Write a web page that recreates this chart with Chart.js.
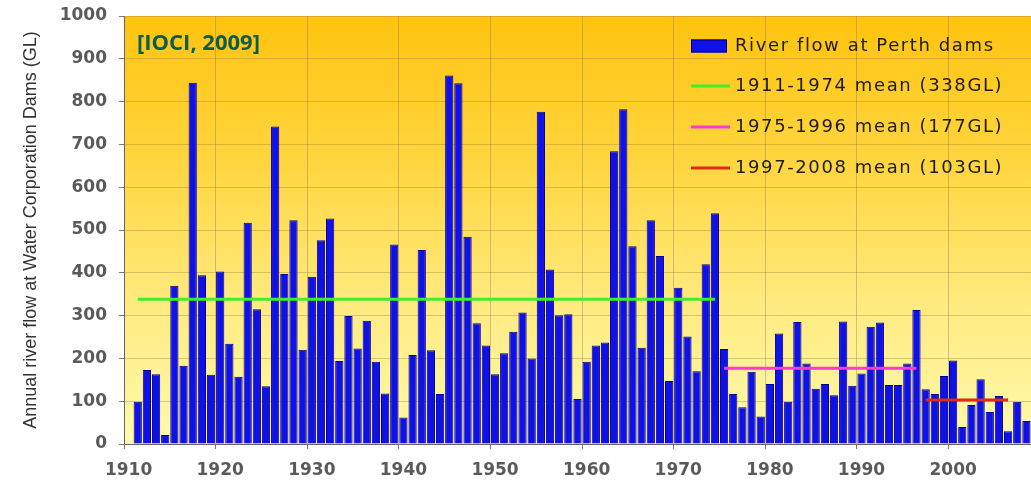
<!DOCTYPE html>
<html>
<head>
<meta charset="utf-8">
<title>River flow at Perth dams</title>
<script src="https://cdn.jsdelivr.net/npm/chart.js@4.4.1/dist/chart.umd.min.js"></script>
<style>
  html, body { margin: 0; padding: 0; background: #ffffff; }
  #wrap { width: 1031px; height: 483px; position: relative; }
</style>
</head>
<body>
<div id="wrap"><canvas id="flowChart"></canvas></div>
<script>
// categories: one per year, 1910 is left empty like the original axis
const years = [
  1910, 1911, 1912, 1913, 1914, 1915, 1916, 1917, 1918, 1919,
  1920, 1921, 1922, 1923, 1924, 1925, 1926, 1927, 1928, 1929,
  1930, 1931, 1932, 1933, 1934, 1935, 1936, 1937, 1938, 1939,
  1940, 1941, 1942, 1943, 1944, 1945, 1946, 1947, 1948, 1949,
  1950, 1951, 1952, 1953, 1954, 1955, 1956, 1957, 1958, 1959,
  1960, 1961, 1962, 1963, 1964, 1965, 1966, 1967, 1968, 1969,
  1970, 1971, 1972, 1973, 1974, 1975, 1976, 1977, 1978, 1979,
  1980, 1981, 1982, 1983, 1984, 1985, 1986, 1987, 1988, 1989,
  1990, 1991, 1992, 1993, 1994, 1995, 1996, 1997, 1998, 1999,
  2000, 2001, 2002, 2003, 2004, 2005, 2006, 2007, 2008
];

// annual inflow (GL)
const riverFlow = [
  null, 99, 173, 163, 21, 370, 183, 844, 394, 162,
  403, 234, 157, 517, 315, 135, 742, 397, 523, 220,
  391, 476, 527, 194, 299, 223, 288, 192, 118, 466,
  62, 208, 453, 219, 117, 861, 843, 484, 282, 230,
  163, 212, 262, 307, 200, 776, 408, 301, 303, 105,
  192, 230, 237, 684, 782, 462, 225, 523, 439, 147,
  365, 251, 170, 420, 539, 222, 117, 86, 169, 64,
  140, 258, 99, 285, 188, 129, 140, 114, 286, 136,
  165, 274, 284, 138, 138, 188, 313, 128, 117, 159,
  195, 40, 91, 151, 75, 112, 30, 99, 54
];

// period means
const meanLabels = ['1911-1974 mean (338GL)', '1975-1996 mean (177GL)', '1997-2008 mean (103GL)'];
const meanValues = [338, 177, 103];
const meanFrom = [1911, 1975, 1997];
const meanTo = [1974, 1996, 2006];
const meanColors = ['#3ef02a', '#ff3ad2', '#e02a18'];

const barLabel = 'River flow at Perth dams';
const yTicks = [0, 100, 200, 300, 400, 500, 600, 700, 800, 900, 1000];
const yTitle = 'Annual river flow at Water Corporation Dams (GL)';
const noteText = '[IOCI, 2009]';

const TICK_FONT = { family: 'DejaVu Sans', size: 17, weight: 'bold' };
const TICK_COLOR = '#5a5a5a';

// gradient behind the plot, white elsewhere
const plotBackground = {
  id: 'plotBackground',
  beforeDraw(chart) {
    const { ctx, chartArea: a } = chart;
    ctx.save();
    ctx.fillStyle = '#ffffff';
    ctx.fillRect(0, 0, chart.width, chart.height);
    const g = ctx.createLinearGradient(0, a.top, 0, a.bottom);
    g.addColorStop(0, '#ffc30e');
    g.addColorStop(0.35, '#ffd640');
    g.addColorStop(0.7, '#ffec84');
    g.addColorStop(1, '#fffaac');
    ctx.fillStyle = g;
    ctx.fillRect(a.left, a.top, a.right - a.left, a.bottom - a.top);
    ctx.restore();
  }
};

// legend inside the plot (top right) and the source note (top left)
const insideLegend = {
  id: 'insideLegend',
  afterDraw(chart) {
    const { ctx, chartArea: a } = chart;
    const x0 = a.right - 340;
    const rows = [46, 86, 127, 168];
    ctx.save();
    ctx.font = '18px "DejaVu Sans"';
    ctx.letterSpacing = '1.6px';
    ctx.textBaseline = 'middle';
    chart.data.datasets.forEach((ds, i) => {
      const y = rows[i];
      if (ds.type === 'bar') {
        ctx.fillStyle = ds.backgroundColor;
        ctx.fillRect(x0, y - 6.5, 36, 13);
        ctx.strokeStyle = ds.borderColor;
        ctx.lineWidth = 1;
        ctx.strokeRect(x0 + 0.5, y - 6, 35, 12);
      } else {
        ctx.strokeStyle = ds.borderColor;
        ctx.lineWidth = 3;
        ctx.beginPath();
        ctx.moveTo(x0, y);
        ctx.lineTo(x0 + 39, y);
        ctx.stroke();
      }
      ctx.fillStyle = '#1e1a0e';
      ctx.fillText(ds.label, x0 + 44, y);
    });
    ctx.letterSpacing = '0px';
    ctx.font = 'bold 22px "Open Sans"';
    ctx.fillStyle = '#0d5c4c';
    ctx.fillText(noteText, a.left + 13, 44);
    ctx.restore();
  }
};

const meanSets = meanValues.map((v, i) => ({
  type: 'line',
  label: meanLabels[i],
  data: years.map(yr => (yr >= meanFrom[i] && yr <= meanTo[i]) ? v : null),
  borderColor: meanColors[i],
  borderWidth: 3,
  pointRadius: 0,
  spanGaps: false,
  order: 0
}));

const isDecade = idx => years[idx] !== undefined && years[idx] % 10 === 0;

new Chart(document.getElementById('flowChart'), {
  type: 'bar',
  data: {
    labels: years,
    datasets: [
      {
        type: 'bar',
        label: barLabel,
        data: riverFlow,
        backgroundColor: '#1010e8',
        borderColor: '#00008c',
        borderWidth: { top: 1, left: 1, right: 1, bottom: 0 },
        categoryPercentage: 1.0,
        barPercentage: 0.9,
        order: 1
      },
      ...meanSets
    ]
  },
  options: {
    responsive: true,
    maintainAspectRatio: false,
    animation: false,
    layout: { padding: { left: 16, top: 16, right: 0, bottom: 0 } },
    plugins: {
      legend: { display: false },
      tooltip: { enabled: false }
    },
    scales: {
      x: {
        type: 'category',
        offset: true,
        grid: {
          offset: true,
          color: c => isDecade(c.index) ? 'rgba(120,110,90,0.35)' : 'rgba(0,0,0,0)',
          tickColor: c => isDecade(c.index) ? '#777777' : 'rgba(0,0,0,0)',
          tickLength: 5
        },
        border: { color: '#666666', width: 1 },
        ticks: {
          autoSkip: false,
          maxRotation: 0,
          padding: 11,
          color: TICK_COLOR,
          font: TICK_FONT,
          callback: function(value, idx) {
            return isDecade(idx) ? String(years[idx]) : '';
          }
        },
        afterFit(scale) {
          scale.height = 39;
          scale.paddingLeft = 0;
          scale.paddingRight = 0;
        }
      },
      y: {
        min: 0,
        max: 1000,
        afterBuildTicks(scale) { scale.ticks = yTicks.map(v => ({ value: v })); },
        grid: {
          color: 'rgba(150,120,60,0.35)',
          tickColor: '#777777',
          tickLength: 5
        },
        border: { color: '#666666', width: 1 },
        ticks: {
          padding: 12,
          color: TICK_COLOR,
          font: TICK_FONT,
          callback: value => String(value)
        },
        title: {
          display: true,
          text: yTitle,
          color: '#333333',
          font: { family: 'Liberation Sans', size: 18 },
          padding: { top: 4, bottom: 4 }
        },
        afterFit(scale) {
          scale.width = 108;
          scale.paddingTop = 0;
          scale.paddingBottom = 0;
        }
      }
    }
  },
  plugins: [plotBackground, insideLegend]
});
</script>
</body>
</html>
